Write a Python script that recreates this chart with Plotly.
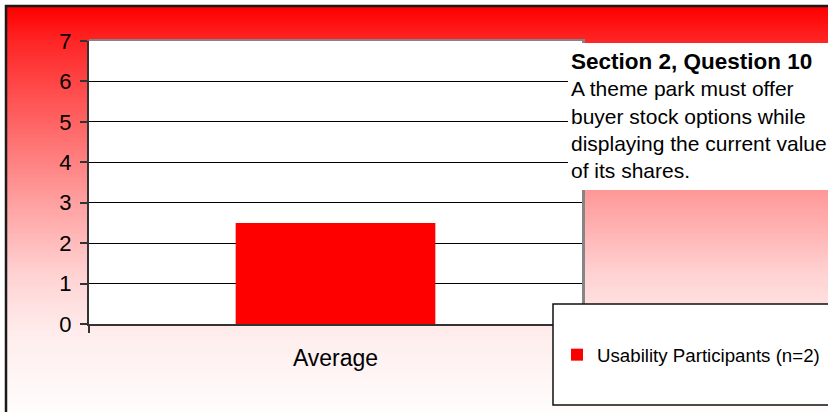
import base64
import struct
import zlib

import plotly.graph_objects as go

# ---------------- data ----------------
categories = ["Average"]
series_name = "Usability Participants (n=2)"
values = [2.5]
y_tick_values = [0, 1, 2, 3, 4, 5, 6, 7]
note_title = "Section 2, Question 10"
note_lines = [
    "A theme park must offer",
    "buyer stock options while",
    "displaying the current value",
    "of its shares.",
]

# ---------------- geometry helpers (pixel -> paper) ----------------
W, H = 828, 412
PL, PR, PT, PB = 89, 582, 41, 324  # plot area in pixels


def px(x):
    return (x - PL) / (PR - PL)


def py(y):
    return (PB - y) / (PB - PT)


# ---------------- background gradient image (red -> white) ----------------
stops = [(0.0, 0.0), (0.08, 0.145), (0.32, 0.44), (0.48, 0.63),
         (0.65, 0.82), (0.8, 0.93), (1.0, 0.99)]


def shade(t):
    for (t0, f0), (t1, f1) in zip(stops[:-1], stops[1:]):
        if t <= t1:
            return f0 + (f1 - f0) * (t - t0) / (t1 - t0)
    return stops[-1][1]


def make_png(h):
    raw = b""
    for i in range(h):
        g = int(round(255 * shade(i / (h - 1))))
        raw += b"\x00" + bytes([255, g, g, 255, g, g])
    def chunk(tag, data):
        c = struct.pack(">I", len(data)) + tag + data
        return c + struct.pack(">I", zlib.crc32(tag + data) & 0xFFFFFFFF)
    png = b"\x89PNG\r\n\x1a\n"
    png += chunk(b"IHDR", struct.pack(">IIBBBBB", 2, h, 8, 2, 0, 0, 0))
    png += chunk(b"IDAT", zlib.compress(raw, 9))
    png += chunk(b"IEND", b"")
    return "data:image/png;base64," + base64.b64encode(png).decode()


grad_src = make_png(405)

FONT = "Arial, 'Liberation Sans', sans-serif"

fig = go.Figure()
fig.add_trace(go.Bar(
    x=categories, y=values, name=series_name,
    marker=dict(color="#ff0000", line=dict(width=0)),
    width=0.405, showlegend=True,
))

fig.update_layout(
    width=W, height=H, autosize=False,
    margin=dict(l=PL, r=W - PR, t=PT, b=H - PB, pad=0, autoexpand=False),
    paper_bgcolor="white",
    plot_bgcolor="white",
    font=dict(family=FONT, color="black"),
    showlegend=True,
    legend=dict(
        x=px(557), y=py(336), xanchor="left", yanchor="top",
        bgcolor="rgba(0,0,0,0)", borderwidth=0,
        font=dict(size=18.7, family=FONT, color="black"),
    ),
    images=[dict(
        source=grad_src, xref="paper", yref="paper",
        x=px(7), y=py(7), sizex=px(832) - px(7), sizey=py(7) - py(416),
        xanchor="left", yanchor="top", sizing="stretch", layer="below",
    )],
    shapes=[
        # plot-area shadow (gray) then white plot area
        dict(type="rect", xref="paper", yref="paper", layer="below",
             x0=px(PL), x1=px(585), y0=py(PB), y1=py(39),
             fillcolor="#858585", line=dict(width=0)),
        dict(type="rect", xref="paper", yref="paper", layer="below",
             x0=0, x1=1, y0=0, y1=1,
             fillcolor="white", line=dict(width=0)),
        # outer chart border
        dict(type="path", xref="paper", yref="paper", layer="above",
             path=f"M {px(6)},{py(420)} L {px(6)},{py(6)} L {px(840)},{py(6)}",
             line=dict(color="#1a1a1a", width=2.5)),
        # note box
        dict(type="rect", xref="paper", yref="paper", layer="above",
             x0=px(568), x1=px(840), y0=py(190), y1=py(43),
             fillcolor="white", line=dict(width=0)),
        # legend box
        dict(type="rect", xref="paper", yref="paper", layer="above",
             x0=px(553), x1=px(840), y0=py(405), y1=py(304),
             fillcolor="white", line=dict(color="#111111", width=1.5)),
    ],
    annotations=[dict(
        xref="paper", yref="paper", x=px(569), y=py(47),
        xanchor="left", yanchor="top", align="left", showarrow=False,
        text="<b><span style='font-size:22.5px'>" + note_title
             + "</span></b><br>" + "<br>".join(note_lines),
        font=dict(size=21, family=FONT, color="black"),
    )],
)

fig.update_yaxes(
    range=[0, 7], tickvals=y_tick_values, showgrid=True, gridcolor="black",
    gridwidth=1, zeroline=False, showline=True, linecolor="#333333",
    linewidth=2, ticks="outside", ticklen=7, tickwidth=1.5,
    tickcolor="#333333", tickfont=dict(size=22, family=FONT, color="black"),
    ticklabelstandoff=4, fixedrange=True,
)
fig.update_xaxes(
    range=[-0.5, 0.5], showline=True, linecolor="#333333", linewidth=2,
    ticks="outside", tickson="boundaries", ticklen=7, tickwidth=1.5,
    tickcolor="#333333", tickfont=dict(size=23, family=FONT, color="black"),
    ticklabelstandoff=12, showgrid=False, fixedrange=True,
)

fig.write_html(
    "out.html",
    config={"displayModeBar": False, "responsive": False},
    default_width="828px", default_height="412px",
    post_script="document.body.style.margin='0';document.body.style.overflow='hidden';",
)
